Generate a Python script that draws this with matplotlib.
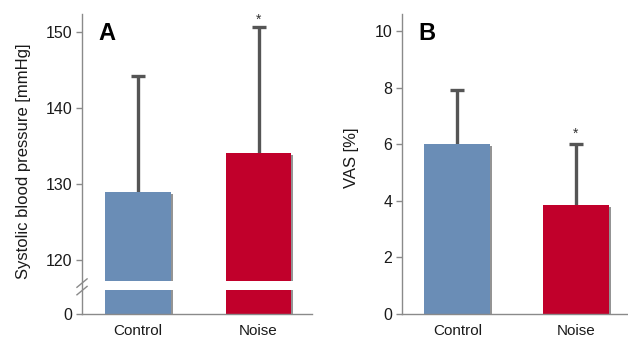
import numpy as np
import matplotlib
matplotlib.use("Agg")
import matplotlib.pyplot as plt
from matplotlib.transforms import ScaledTranslation

plt.rcParams['font.family'] = ['Liberation Sans', 'DejaVu Sans']

# Data
groups = ["Control", "Noise"]
sbp_mean = [128.9, 134.0]
sbp_sd = [15.3, 16.7]
vas_mean = [6.0, 3.85]
vas_sd = [1.9, 2.15]
sbp_ticks = [0, 120, 130, 140, 150]
vas_ticks = [0, 2, 4, 6, 8, 10]

colors = ["#6a8db6", "#c1002b"]
err_color = "#555555"
spine_color = "#8a8a8a"
shadow_color = "#7a7a7a"
text_color = "#1a1a1a"

# Broken y scale for panel A: 0..BREAK compressed, above BREAK linear
BREAK = 116.0
K = 0.0273


def fwd(v):
    v = np.asarray(v, dtype=float)
    return np.where(v < BREAK, v * K, BREAK * K + (v - BREAK))


def inv(u):
    u = np.asarray(u, dtype=float)
    return np.where(u < BREAK * K, u / K, BREAK + (u - BREAK * K))


fig = plt.figure(figsize=(6.28, 3.42), dpi=100)
axA = fig.add_axes([0.1306, 0.0819, 0.3662, 0.8772])
axB = fig.add_axes([0.6401, 0.0819, 0.3599, 0.8772])


def style(ax):
    for s in ("top", "right"):
        ax.spines[s].set_visible(False)
    for s in ("left", "bottom"):
        ax.spines[s].set_color(spine_color)
        ax.spines[s].set_linewidth(1.0)
        ax.spines[s].set_zorder(5)
    ax.tick_params(axis="y", direction="out", length=4, width=1.0,
                   color=spine_color, labelsize=11.5, labelcolor=text_color, pad=3)
    ax.tick_params(axis="x", length=0, labelsize=11, labelcolor=text_color, pad=7)


def draw_bars(ax, means, sds, width, star_y):
    x = np.arange(len(groups))
    shadow = ax.transData + ScaledTranslation(2 / 100, -1.5 / 100, fig.dpi_scale_trans)
    ax.bar(x, means, width=width, color=shadow_color, zorder=1.5,
           transform=shadow, alpha=0.8)
    ax.bar(x, means, width=width, color=colors, zorder=2)
    eb = ax.errorbar(x, means, yerr=[np.zeros(len(sds)), sds], fmt="none",
                     ecolor=err_color, elinewidth=2.4, capsize=5, capthick=2.4,
                     zorder=1.8)
    # only the upper cap is shown
    eb[1][0].set_visible(False)
    ax.text(x[1], star_y, "*", ha="center", va="center", fontsize=10,
            color="#333333", zorder=4)
    ax.set_xticks(x)
    ax.set_xticklabels(groups)


# Panel A
axA.set_yscale("function", functions=(fwd, inv))
draw_bars(axA, sbp_mean, sbp_sd, 0.545, 151.7)
axA.set_xlim(-0.459, 1.442)
axA.set_ylim(0, 152.4)
axA.set_yticks(sbp_ticks)
axA.set_yticklabels([str(t) for t in sbp_ticks])
axA.yaxis.set_minor_locator(matplotlib.ticker.NullLocator())
style(axA)
axA.set_ylabel("Systolic blood pressure [mmHg]", fontsize=12, color=text_color)
axA.yaxis.set_label_coords(-0.22, 0.51)
# white gap across the bars at the axis break
axA.axhspan(BREAK, 117.2, color="white", zorder=2.6, lw=0)
# break marks on the y spine
for yc in (0.103, 0.078):
    axA.plot([-0.022, 0.022], [yc - 0.014, yc + 0.014], transform=axA.transAxes,
             color=spine_color, lw=1.0, clip_on=False, zorder=6)
axA.text(0.108, 0.934, "A", transform=axA.transAxes, fontsize=17,
         fontweight="bold", ha="center", va="center")

# Panel B
draw_bars(axB, vas_mean, vas_sd, 0.557, 6.36)
axB.set_xlim(-0.468, 1.439)
axB.set_ylim(0, 10.6)
axB.set_yticks(vas_ticks)
style(axB)
axB.set_ylabel("VAS [%]", fontsize=12, color=text_color)
axB.yaxis.set_label_coords(-0.19, 0.52)
axB.text(0.11, 0.934, "B", transform=axB.transAxes, fontsize=17,
         fontweight="bold", ha="center", va="center")

fig.savefig("out.png", dpi=100, facecolor="white")
